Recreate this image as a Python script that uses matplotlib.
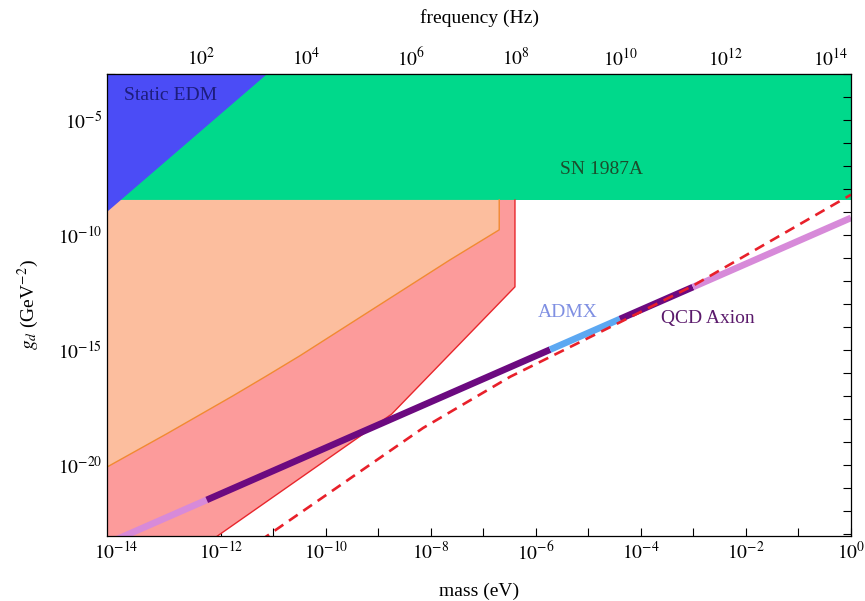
import numpy as np
import matplotlib
matplotlib.use('Agg')
import matplotlib.pyplot as plt
from matplotlib.ticker import FixedLocator, FuncFormatter, NullLocator

plt.rcParams['font.family'] = ['Liberation Serif', 'DejaVu Serif']
plt.rcParams['mathtext.fontset'] = 'stix'
plt.rcParams['font.size'] = 14

# values, as log10(mass / eV) and log10(g_d / GeV^-2)
xlim_log = [-14.17, 0.0]
ylim_log = [-23.1, -3.0]

edm_mass_log = [-14.5, -11.12]
edm_g_log = [-9.65, -3.0]

sn_g_log = -8.48

orange_mass_log = [-14.5, -14.17, -13.03, -11.77, -11.12, -10.49, -7.64, -6.70, -6.70]
orange_g_log = [-20.5, -20.1, -18.65, -17.0, -16.12, -15.25, -11.09, -9.78, -8.48]

red_mass_log = [-12.63, -8.75, -6.40, -6.40]
red_g_log = [-24.0, -17.8, -12.26, -8.48]

dash_mass_log = [-11.25, -8.15, -6.49, -4.40, -3.00, 0.0]
dash_g_log = [-23.3, -18.4, -16.17, -13.8, -12.2, -8.25]

# QCD axion band g = 10^-9.26 * m, split in segments
axion_offset = -9.26
axion_edges_log = [-14.5, -12.27, -5.73, -4.40, -3.01, 0.0]
axion_colors = ['#d78ad9', '#6c0a80', '#5ca8f2', '#6c0a80', '#d78ad9']

hz_per_ev = 2.418e14

fig = plt.figure(figsize=(8.65, 6.01), dpi=100)
ax = fig.add_axes([107/865, 1-536/601, (851-107)/865, (536-74)/601])
ax.set_xscale('log')
ax.set_yscale('log')
ax.set_xlim(10**xlim_log[0], 10**xlim_log[1])
ax.set_ylim(10**ylim_log[0], 10**ylim_log[1])

# SN 1987A band and static EDM triangle
ax.fill([1e-15, 10, 10, 1e-15], [10**sn_g_log, 10**sn_g_log, 1, 1],
        color='#00d98b', lw=0, zorder=1)
ex = 10**np.array(edm_mass_log)
ey = 10**np.array(edm_g_log)
ax.fill([ex[0], ex[1], ex[0]], [ey[0], ey[1], ey[1]], color='#4b4cf6', lw=0, zorder=4.5)

# red region then orange region on top
rx = 10**np.array(red_mass_log)
ry = 10**np.array(red_g_log)
ax.fill(np.r_[1e-15, rx, 1e-15], np.r_[1e-24, ry, 10**sn_g_log],
        color='#fc9b9b', lw=0, zorder=2)
ax.plot(rx, ry, color='#e8262c', lw=1.0, zorder=3)

ox = 10**np.array(orange_mass_log)
oy = 10**np.array(orange_g_log)
ax.fill(np.r_[ox, 1e-15], np.r_[oy, 10**sn_g_log], color='#fcbe9e', lw=0, zorder=3)
ax.plot(ox, oy, color='#f18a32', lw=1.0, zorder=4)

# QCD axion line
for i in range(len(axion_colors)):
    mm = np.array([axion_edges_log[i], axion_edges_log[i+1]])
    ax.plot(10**mm, 10**(mm + axion_offset), color=axion_colors[i], lw=4.8,
            solid_capstyle='butt', zorder=5)

# dashed projection
ax.plot(10**np.array(dash_mass_log), 10**np.array(dash_g_log), color='#e8202a',
        lw=1.9, ls=(0, (4, 2.6)), zorder=6)

# labels in plot
ax.text(10**-12.95, 10**-3.95, 'Static EDM', color='#1d1d7c', ha='center', va='center', zorder=7)
ax.text(10**-4.75, 10**-7.15, 'SN 1987A', color='#1b4d2c', ha='center', va='center', zorder=7)
ax.text(10**-5.4, 10**-13.38, 'ADMX', color='#7f8fe2', ha='center', va='center', zorder=7)
ax.text(10**-2.72, 10**-13.65, 'QCD Axion', color='#5b1a6c', ha='center', va='center', zorder=7)

# ticks
def pow_fmt(step):
    def f(v, pos):
        k = int(round(np.log10(v)))
        if k % step == 0:
            return '$10^{%d}$' % k
        return ''
    return f

ax.xaxis.set_major_locator(FixedLocator([10.0**k for k in range(-14, 1)]))
ax.xaxis.set_major_formatter(FuncFormatter(pow_fmt(2)))
ax.xaxis.set_minor_locator(NullLocator())
ax.yaxis.set_major_locator(FixedLocator([10.0**k for k in range(-23, -2)]))
ax.yaxis.set_major_formatter(FuncFormatter(pow_fmt(5)))
ax.yaxis.set_minor_locator(NullLocator())
ax.tick_params(direction='in', length=6, width=0.8, top=False, right=True, labelsize=14)
for sp in ax.spines.values():
    sp.set_linewidth(0.9)
    sp.set_zorder(10)

ax.set_xlabel('mass (eV)', labelpad=14)
ax.set_ylabel('$g_d$ (GeV$^{-2}$)', labelpad=12)

sec = ax.secondary_xaxis('top', functions=(lambda m: m*hz_per_ev, lambda f: f/hz_per_ev))
sec.xaxis.set_major_locator(FixedLocator([10.0**k for k in range(0, 15)]))
sec.xaxis.set_major_formatter(FuncFormatter(pow_fmt(2)))
sec.xaxis.set_minor_locator(NullLocator())
sec.tick_params(direction='in', length=6, width=0.8, labelsize=14)
sec.set_xlabel('frequency (Hz)', labelpad=17)

fig.savefig('out.png', dpi=100)
